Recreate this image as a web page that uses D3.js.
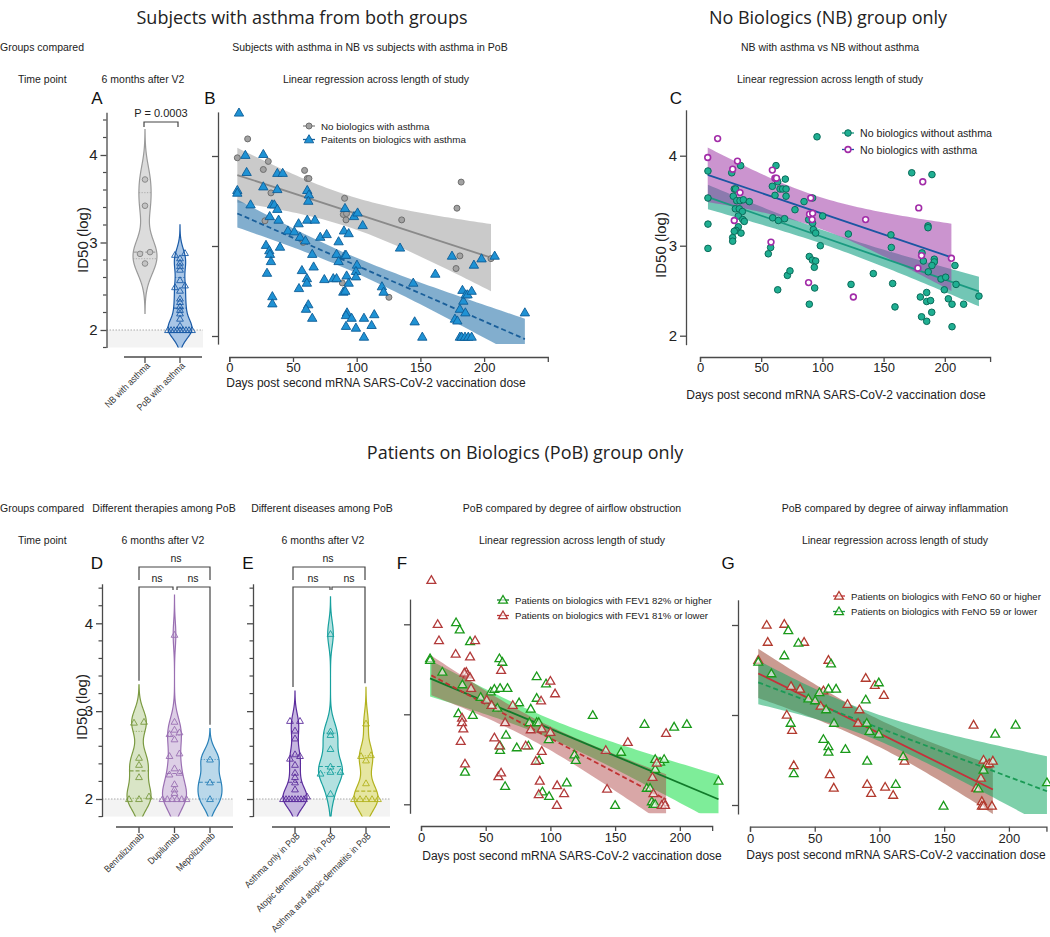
<!DOCTYPE html>
<html><head><meta charset="utf-8">
<script src="https://cdn.jsdelivr.net/npm/d3@7"></script>
<style>body{margin:0;background:#fff}</style>
</head><body><svg id="c" width="1050" height="937"></svg>
<script>
// ---------------- DATA ----------------
// Panel A (6 months after V2), ID50 log values
const catsA = ["NB with asthma", "PoB with asthma"];
const nbAsthma6m = [3.72, 3.42, 2.89, 2.87, 2.76];
const pobAsthma6m = [2.88, 2.86, 2.82, 2.77, 2.73, 2.69, 2.57, 2.51, 2.49, 2.45, 2.36, 2.32, 2.27, 2.23, 2.19, 2.13, 2.05, 2, 2, 2, 2, 2, 2, 2, 2, 2];

// Panel B / C : [days, ID50 log]
const nbWithAsthma = [[6.3,3.98],[14.4,4.19],[26.7,3.85],[30.6,3.94],[28,3.28],[32.7,3.59],[59.1,3.84],[61.2,3.75],[62.5,3.75],[58,3.04],[90.5,3.53],[89.5,3.35],[92,3.36],[91.6,3.29],[88.7,2.59],[125.3,2.43],[135.3,3.29],[182,3.71],[178.7,3.42],[181,2.89],[178,2.75],[205.4,2.86]];
const pobWithAsthma = [[7.6,4.48],[6.3,3.62],[6.3,3.59],[12.6,4.01],[13.6,3.82],[16.7,3.46],[26.7,4.02],[26.7,3.66],[37.7,3.81],[41.9,3.81],[37.7,3.63],[33.5,3.46],[35.3,3.46],[37.7,3.41],[31.7,3.33],[38.7,3.29],[28.8,3.01],[31.4,2.95],[31.9,2.91],[32.7,2.83],[29.6,2.70],[39.8,2.99],[33.8,2.44],[33.8,2.36],[46,3.17],[51,3.16],[54.4,3.25],[55.5,3.10],[59.7,3.06],[61.2,3.62],[62.5,3.57],[62,3.50],[61.2,3.29],[67.2,3.29],[65.1,2.91],[66.2,2.77],[57,2.73],[54.7,2.53],[60.9,2.64],[60.9,2.59],[62,2.35],[60.2,2.30],[65.1,2.20],[71.4,3.10],[76.4,3.13],[74.6,2.63],[81.6,2.64],[84.2,2.64],[85.8,3.05],[84.2,2.91],[85.8,2.83],[90.8,3.42],[90,3.17],[93.7,3.14],[97.9,3.33],[100.7,3.37],[104.7,3.23],[90.8,2.90],[91.6,2.90],[92.1,2.67],[93.7,2.59],[89.5,2.49],[91,2.50],[100.2,2.79],[99.4,2.72],[99.4,2.66],[92.4,2.26],[91.6,2.23],[96,2.20],[91.6,2.11],[99.4,2.09],[105.7,2.20],[105.7,1.99],[111.7,2.12],[113.8,2.24],[119.8,2.55],[121.1,2.49],[134,2.98],[144.4,2.59],[145.5,2.16],[151.5,1.99],[161.7,2.69],[174.8,2.89],[177.1,2.19],[179,2.17],[181,2.30],[183.7,2.39],[185.3,2.26],[183,2.51],[185.6,2.46],[187,2.46],[190.2,2.50],[181,1.99],[182.4,1.99],[185,1.99],[187.6,1.99],[190.2,1.99],[192,2.79],[198,2.86],[208.3,2.89],[232,2.26]];
const nbWithoutAsthma = [[6.5,3.83],[6.5,3.53],[6.5,3.24],[6.5,2.97],[25.9,3.81],[28,3.63],[29.1,3.63],[27.2,3.55],[30,3.50],[32.7,3.50],[35.4,3.51],[28.9,3.41],[32.1,3.41],[34.6,3.38],[31.3,3.33],[34.9,3.29],[36.2,3.27],[40.3,3.49],[33.2,3.89],[31.3,3.21],[29.4,3.17],[28,3.16],[26.7,3.09],[26.7,3.05],[33.5,3.14],[62.1,3.89],[62.6,3.74],[63.5,3.71],[59.1,3.66],[61.3,3.56],[65.4,3.63],[67.5,3.63],[70.3,3.63],[69.7,3.74],[70.3,3.55],[59.4,3.31],[64,3.28],[69.1,3.30],[77.6,3.40],[85,3.49],[92,3.53],[88.8,3.29],[92,3.25],[92.6,3.18],[94.5,3.14],[100.2,3.33],[98.3,3.00],[95.6,4.21],[55.8,2.91],[57.7,2.98],[71.4,2.67],[73.5,2.72],[63.5,2.51],[89.3,2.88],[91.8,2.84],[94.5,2.83],[93.4,2.76],[93.7,2.53],[89.3,2.35],[121.2,3.13],[123.4,2.57],[141.6,2.69],[156,3.12],[156.3,2.98],[157.4,2.58],[159.3,2.32],[173,3.81],[189.5,3.79],[186.3,3.22],[186.3,3.20],[181.4,2.92],[182.5,2.83],[186.5,2.71],[191.4,2.85],[191.4,2.82],[189.5,2.78],[196.9,2.63],[200.7,2.65],[199.6,2.51],[180,2.43],[185.2,2.48],[185.2,2.38],[188.4,2.39],[189.3,2.26],[181,2.21],[185.2,2.16],[202.9,2.41],[205.9,2.35],[208.3,2.78],[209.2,2.57],[215.4,2.35],[205.9,2.10],[227.9,2.44]];

// Panel D / E (6 months after V2)
const catsD = ["Benralizumab", "Dupilumab", "Mepolizumab"];
const benralizumab = [2.87, 2.88, 2.47, 2.39, 2.25, 2.03, 2, 2];
const dupilumab = [3.87, 2.88, 2.79, 2.76, 2.74, 2.68, 2.52, 2.49, 2.35, 2.30, 2.28, 2.17, 2.11, 2.07, 2, 2, 2, 2, 2, 2];
const mepolizumab = [2.45, 2.19, 2.0];
const catsE = ["Asthma only in PoB", "Atopic dermatitis only in PoB", "Asthma and atopic dermatitis in PoB"];
const asthmaOnly = [2.89, 2.89, 2.78, 2.69, 2.51, 2.49, 2.46, 2.39, 2.30, 2.25, 2.19, 2.11, 2.03, 2, 2, 2, 2, 2, 2, 2, 2];
const atopicOnly = [3.88, 2.77, 2.73, 2.57, 2.37, 2.31, 2.29, 2.31, 2.06];
const asthmaAtopic = [2.86, 2.50, 2.49, 2.44, 2.18, 2, 2, 2, 2, 2];

// Panel F : FEV1
const fevHigh = [[7,3.62],[7,3.60],[16.5,3.47],[27.1,4.02],[29.9,3.94],[37.9,3.81],[32,3.33],[28.9,3.01],[34,2.36],[40,2.99],[46.1,3.19],[53.9,3.25],[54.6,3.10],[56.7,3.28],[59,3.07],[61.1,3.29],[60.6,3.62],[62.9,3.58],[66.8,3.29],[65.7,2.77],[61.1,2.60],[61.1,2.65],[65,2.20],[74,2.63],[75.8,3.13],[83,2.65],[84.8,3.06],[83.8,2.91],[89.4,3.42],[89.4,3.18],[89.4,2.91],[91,2.91],[91.2,2.49],[96.6,3.34],[98.7,2.72],[93.8,2.14],[99,2.09],[112.6,2.24],[118.6,2.55],[119.6,2.49],[132.7,2.99],[150,1.99],[154.6,2.58],[172.7,2.89],[174.5,2.18],[177,2.18],[181,2.39],[181,2.50],[184.8,2.47],[187.9,2.50],[195.6,2.86],[205.4,2.89],[178.4,2.03],[179.6,2.0],[181,2.0],[229.9,2.26]];
const fevLow = [[8,4.49],[12.9,4.0],[13.9,3.82],[26.8,3.67],[35,3.47],[35.8,3.44],[33.5,3.46],[37.9,3.64],[41.8,3.82],[37.9,3.41],[38.7,3.29],[31.7,2.96],[31.7,2.91],[32.7,2.84],[30.7,2.70],[34,2.45],[50.8,3.16],[54.6,3.10],[56.7,2.74],[61.9,3.49],[65,2.91],[60.6,2.65],[59.8,2.31],[61.9,2.35],[70.9,3.10],[80.9,2.65],[84.8,2.83],[92.8,3.15],[93.3,2.84],[93.3,2.59],[88.7,2.48],[91.8,2.26],[91,2.11],[100,3.37],[103.6,3.23],[100,2.80],[105.2,2.21],[105,1.99],[110.6,2.12],[142.8,2.60],[143.8,2.17],[159.8,2.69],[178.9,2.30],[179.6,2.12],[182.2,2.46],[189.4,2.79],[187.9,2.02],[186,1.99],[188.6,1.99]];

// Panel G : FeNO
const fenoHigh = [[6.4,3.61],[12.9,4.0],[13.7,3.81],[26.5,4.01],[31.7,3.32],[28.4,3.0],[32.5,2.83],[33.8,2.44],[38.7,3.29],[41.8,3.81],[54.6,3.10],[56.7,3.27],[60.6,3.61],[61.6,2.34],[64.7,2.19],[75.3,3.12],[83.5,2.91],[84.5,3.06],[89.4,3.41],[90.5,2.23],[93.6,2.13],[96.4,3.33],[103.4,3.22],[104.4,2.20],[110.6,2.11],[119.3,2.49],[172.7,2.89],[174.7,2.19],[178.4,2.30],[180.4,2.50],[182.5,2.45],[184.8,2.46],[187.6,2.49],[179.1,2.04],[179.1,1.99],[180.4,1.99],[186.9,1.99]];
const fenoLow = [[6.4,3.59],[16.5,3.46],[26.5,3.66],[29.6,3.94],[37.4,3.80],[31.4,2.91],[33.8,2.35],[45.1,3.18],[50.3,3.16],[53.6,3.25],[58.8,3.06],[56.7,2.73],[60.6,2.65],[60.6,2.59],[60.6,3.29],[62.6,3.57],[64.9,2.91],[66.5,3.29],[73.7,2.62],[89.4,3.17],[90.2,2.91],[90.5,2.49],[92.3,2.82],[99.5,3.36],[99.5,2.79],[112.6,2.23],[118.3,2.54],[149.5,1.99],[176.5,2.18],[180.4,2.39],[189.4,2.79],[205.2,2.89],[229.4,2.25]];

const dayTicks = [0, 50, 100, 150, 200];
const logTicks = [2, 3, 4];

// ---------------- HELPERS ----------------
const svg = d3.select("#c");
const FONT = '"Liberation Sans", Arial, sans-serif';
const AX = "#4a4a4a";

function text(x, y, s, o = {}) {
  return svg.append("text").attr("x", x).attr("y", y).text(s)
    .attr("font-family", o.font || FONT).attr("font-size", o.size || 11)
    .attr("fill", o.color || "#222").attr("text-anchor", o.anchor || "start")
    .attr("dominant-baseline", "central");
}
function condense(sel, f) {
  const L = sel.node().getComputedTextLength();
  if (L > 0) sel.attr("textLength", L * f).attr("lengthAdjust", "spacingAndGlyphs");
}

function fitLine(data) {
  const n = data.length, mx = d3.mean(data, d => d[0]), my = d3.mean(data, d => d[1]);
  let sxx = 0, sxy = 0;
  data.forEach(d => { sxx += (d[0] - mx) ** 2; sxy += (d[0] - mx) * (d[1] - my); });
  const b = sxy / sxx, a = my - b * mx;
  let sse = 0; data.forEach(d => { sse += (d[1] - (a + b * d[0])) ** 2; });
  const s = Math.sqrt(sse / (n - 2)), df = n - 2, t = 1.96 + 2.5 / df;
  const pred = x => a + b * x;
  const hw = x => t * s * Math.sqrt(1 / n + (x - mx) ** 2 / sxx);
  return { pred, hw, x0: d3.min(data, d => d[0]), x1: d3.max(data, d => d[0]) };
}

function yAxisLeft(g, y, lo, hi, x, labels, minor) {
  const s = d3.scaleLinear().domain([lo, hi]).range([y(lo), y(hi)]);
  const gg = g.append("g").attr("transform", `translate(${x},0)`)
    .call(d3.axisLeft(s).tickValues(logTicks).tickSize(6).tickSizeOuter(0)
      .tickFormat(labels ? d3.format("d") : () => ""));
  if (minor) {
    const m = d3.range(Math.ceil(lo * 5), Math.floor(hi * 5) + 1).map(v => v / 5).filter(v => Math.abs(v - Math.round(v)) > 1e-6);
    gg.selectAll(".mn").data(m).join("line").attr("x1", -3.5).attr("x2", 0).attr("y1", d => y(d)).attr("y2", d => y(d)).attr("stroke", AX).attr("stroke-width", 1.2);
  }
  styleAxis(gg, 15);
}
function xAxisBottom(g, x, xmax, yPos, pad) {
  const s = d3.scaleLinear().domain([0, xmax]).range([x(0), x(xmax)]);
  const gg = g.append("g").attr("transform", `translate(0,${yPos})`)
    .call(d3.axisBottom(s).tickValues(dayTicks).tickSize(5).tickSizeOuter(5).tickPadding(pad).tickFormat(d3.format("d")));
  styleAxis(gg, 13);
}
function styleAxis(gg, fs) {
  gg.select(".domain").attr("stroke", AX).attr("stroke-width", 1.3);
  gg.selectAll(".tick line").attr("stroke", AX).attr("stroke-width", 1.3);
  gg.selectAll(".tick text").attr("font-family", FONT).attr("font-size", fs).attr("fill", "#222");
}

function marker(g, type, x, y, st) {
  if (type === "circle") {
    g.append("circle").attr("cx", x).attr("cy", y).attr("r", st.r || 3).attr("fill", st.fill).attr("stroke", st.stroke).attr("stroke-width", st.sw || 1);
  } else {
    g.append("path").attr("d", d3.symbol(d3.symbolTriangle, st.size || 36)()).attr("transform", `translate(${x},${y + 0.6})`)
      .attr("fill", st.fill).attr("stroke", st.stroke).attr("stroke-width", st.sw || 1);
  }
}

function scatterPanel(cfg) {
  const g = svg.append("g");
  const { x, y } = cfg;
  const clipId = "clip" + Math.random().toString(36).slice(2);
  svg.append("clipPath").attr("id", clipId).append("rect")
    .attr("x", cfg.axisX).attr("y", y(cfg.yHi)).attr("width", x(cfg.xMax) - cfg.axisX + 10).attr("height", y(cfg.yLo) - y(cfg.yHi));
  const gc = g.append("g").attr("clip-path", `url(#${clipId})`);
  const fits = cfg.series.map(s => fitLine(s.data));
  cfg.series.forEach((s, i) => {
    const f = fits[i];
    const xs = d3.range(61).map(k => f.x0 + (f.x1 - f.x0) * k / 60);
    gc.append("path").datum(xs).attr("fill", s.band).attr("stroke", "none")
      .attr("d", d3.area().x(d => x(d)).y0(d => y(f.pred(d) - f.hw(d))).y1(d => y(f.pred(d) + f.hw(d))));
  });
  cfg.series.forEach((s, i) => {
    const f = fits[i];
    gc.append("line").attr("x1", x(f.x0)).attr("x2", x(f.x1)).attr("y1", y(f.pred(f.x0))).attr("y2", y(f.pred(f.x1)))
      .attr("stroke", s.line).attr("stroke-width", 1.8).attr("stroke-dasharray", s.dash || null);
  });
  cfg.series.forEach(s => s.data.forEach(d => marker(g, s.marker, x(d[0]), y(d[1]), s.st)));
  yAxisLeft(g, y, cfg.yLo, cfg.yHi, cfg.axisX, cfg.yLabels, false);
  xAxisBottom(g, x, cfg.xMax, cfg.xAxisY, cfg.tickPad);
  cfg.series.forEach((s, i) => {
    const lx = cfg.legend.x, ly = cfg.legend.y + i * cfg.legend.dy;
    g.append("line").attr("x1", lx - 6).attr("x2", lx + 6).attr("y1", ly).attr("y2", ly).attr("stroke", s.line).attr("stroke-width", 1.3);
    marker(g, s.marker, lx, ly, s.st);
    g.append("text").attr("x", lx + 12).attr("y", ly).text(s.name).attr("font-family", FONT).attr("font-size", cfg.legend.fs)
      .attr("fill", "#222").attr("dominant-baseline", "central");
  });
  g.append("text").attr("x", cfg.title.x).attr("y", cfg.title.y).text("Days post second mRNA SARS-CoV-2 vaccination dose")
    .attr("font-family", FONT).attr("font-size", 12).attr("fill", "#222").attr("text-anchor", "middle").attr("dominant-baseline", "central");
}

function quant(vals, p) {
  const s = vals.slice().sort((a, b) => a - b), n = s.length;
  let pos = p * (n + 1); pos = Math.max(1, Math.min(n, pos));
  const i = Math.floor(pos), f = pos - i;
  return i >= n ? s[n - 1] : s[i - 1] + f * (s[i] - s[i - 1]);
}

function violin(g, vals, cx, y, v) {
  const bw = v.bw, lo = d3.min(vals) - 3 * bw, hi = d3.max(vals) + 3 * bw;
  const dens = t => d3.sum(vals, d => Math.exp(-0.5 * ((t - d) / bw) ** 2));
  const grid = d3.range(161).map(i => lo + (hi - lo) * i / 160);
  const maxD = d3.max(grid, dens);
  const W = 12, w = t => W * dens(t) / maxD;
  g.append("path").datum(grid).attr("fill", v.fill).attr("stroke", v.stroke).attr("stroke-width", 1.2)
    .attr("d", d3.area().y(d => y(d)).x0(d => cx - w(d)).x1(d => cx + w(d)).curve(d3.curveBasis));
  [[0.25, "1.2,1.5", 0.8], [0.5, "4,2", 1.1], [0.75, "1.2,1.5", 0.8]].forEach(([p, da, sw]) => {
    const q = quant(vals, p), ww = w(q);
    g.append("line").attr("x1", cx - ww).attr("x2", cx + ww).attr("y1", y(q)).attr("y2", y(q))
      .attr("stroke", v.stroke).attr("stroke-width", sw).attr("stroke-dasharray", da).attr("opacity", 0.9);
  });
  const s = vals.slice().sort((a, b) => a - b);
  const groups = [];
  s.forEach(val => {
    const last = groups[groups.length - 1];
    if (last && val - last[0] <= 0.031) last.push(val); else groups.push([val]);
  });
  groups.forEach(gr => {
    const k = gr.length, sp = k > 1 ? Math.min(10, 24 / (k - 1)) : 0;
    gr.forEach((val, j) => marker(g, v.marker, cx + (j - (k - 1) / 2) * sp, y(val), v.pt));
  });
  return y(hi);
}

function violinPanel(cfg) {
  const g = svg.append("g");
  const { y, xs } = cfg;
  g.append("rect").attr("x", cfg.axisX).attr("y", y(2)).attr("width", cfg.shadeR - cfg.axisX).attr("height", y(1.8) - y(2)).attr("fill", "#f3f3f3");
  g.append("line").attr("x1", cfg.axisX).attr("x2", cfg.shadeR).attr("y1", y(2)).attr("y2", y(2)).attr("stroke", "#aaa").attr("stroke-width", 1).attr("stroke-dasharray", "1.5,1.5");
  const clipId = "vc" + Math.random().toString(36).slice(2);
  svg.append("clipPath").attr("id", clipId).append("rect").attr("x", cfg.axisX).attr("y", 0).attr("width", 400).attr("height", y(1.8));
  const gc = g.append("g").attr("clip-path", `url(#${clipId})`);
  const tops = cfg.series.map((s, i) => violin(gc, s.values, xs(cfg.cats[i]), y, s));
  yAxisLeft(g, y, 1.8, cfg.yHi, cfg.axisX, cfg.yLabels, true);
  const ya = cfg.catAxisY;
  g.append("line").attr("x1", cfg.catX0).attr("x2", cfg.catX1).attr("y1", ya).attr("y2", ya).attr("stroke", AX).attr("stroke-width", 1.3);
  cfg.cats.forEach(c => {
    const cx = xs(c);
    g.append("line").attr("x1", cx).attr("x2", cx).attr("y1", ya).attr("y2", ya + 6).attr("stroke", AX).attr("stroke-width", 1.3);
    const t = g.append("text").attr("transform", `translate(${cx + 3},${ya + 7}) rotate(-45)`).attr("text-anchor", "end")
      .attr("dominant-baseline", "central").attr("font-family", FONT).attr("font-size", 9.6).attr("fill", "#333").text(c);
    condense(t, 0.88);
  });
  return tops;
}

function bracket(x1, x2, yb, leg1, leg2) {
  const p = d3.path(); p.moveTo(x1, leg1); p.lineTo(x1, yb); p.lineTo(x2, yb); p.lineTo(x2, leg2);
  svg.append("path").attr("d", p.toString()).attr("fill", "none").attr("stroke", "#444").attr("stroke-width", 1.2);
}
function yTitle(x, y) {
  svg.append("text").attr("transform", `translate(${x},${y}) rotate(-90)`).attr("text-anchor", "middle").attr("dominant-baseline", "central")
    .attr("font-family", FONT).attr("font-size", 15).attr("fill", "#222").text("ID50 (log)");
}

// ---------------- HEADERS ----------------
const OPEN = '"Open Sans", sans-serif';
text(302, 17, "Subjects with asthma from both groups", { size: 18, font: OPEN, anchor: "middle" });
text(828, 17, "No Biologics (NB) group only", { size: 18, font: OPEN, anchor: "middle" });
text(0, 47, "Groups compared", { size: 10.5 });
text(370, 47, "Subjects with asthma in NB vs subjects with asthma in PoB", { size: 10.5, anchor: "middle" });
text(830, 47, "NB with asthma vs NB without asthma", { size: 10.5, anchor: "middle" });
text(18, 79, "Time point", { size: 10.5 });
text(143, 79, "6 months after V2", { size: 10.5, anchor: "middle" });
text(376, 79, "Linear regression across length of study", { size: 10.5, anchor: "middle" });
text(830, 79, "Linear regression across length of study", { size: 10.5, anchor: "middle" });
text(97, 98, "A", { size: 17, anchor: "middle", color: "#111" });
text(210, 98, "B", { size: 17, anchor: "middle", color: "#111" });
text(676, 98, "C", { size: 17, anchor: "middle", color: "#111" });

text(525, 452, "Patients on Biologics (PoB) group only", { size: 18, font: OPEN, anchor: "middle" });
text(0, 508, "Groups compared", { size: 10.5 });
text(164, 508, "Different therapies among PoB", { size: 10.5, anchor: "middle" });
text(322, 508, "Different diseases among PoB", { size: 10.5, anchor: "middle" });
text(572, 508, "PoB compared by degree of airflow obstruction", { size: 10.5, anchor: "middle" });
text(895, 508, "PoB compared by degree of airway inflammation", { size: 10.5, anchor: "middle" });
text(18, 540, "Time point", { size: 10.5 });
text(163, 540, "6 months after V2", { size: 10.5, anchor: "middle" });
text(323, 540, "6 months after V2", { size: 10.5, anchor: "middle" });
text(572, 540, "Linear regression across length of study", { size: 10.5, anchor: "middle" });
text(895, 540, "Linear regression across length of study", { size: 10.5, anchor: "middle" });
text(97, 563, "D", { size: 17, anchor: "middle", color: "#111" });
text(248, 563, "E", { size: 17, anchor: "middle", color: "#111" });
text(402, 563, "F", { size: 17, anchor: "middle", color: "#111" });
text(728, 563, "G", { size: 17, anchor: "middle", color: "#111" });

// ---------------- PANEL A ----------------
const yA = d3.scaleLinear().domain([2, 4]).range([330, 155]);
const xA = d3.scalePoint().domain(catsA).range([145, 180]);
violinPanel({
  y: yA, xs: xA, cats: catsA, axisX: 106.5, shadeR: 203, yHi: 4.49, yLabels: true,
  catAxisY: 357, catX0: 124, catX1: 202,
  series: [
    { values: nbAsthma6m, bw: 0.19, fill: "#dcdcdc", stroke: "#9a9a9a", marker: "circle", pt: { r: 2.8, fill: "#c4c4c4", stroke: "#8a8a8a", sw: 1 } },
    { values: pobAsthma6m, bw: 0.107, fill: "#a9c6e6", stroke: "#1a5aa6", marker: "tri", pt: { size: 20, fill: "none", stroke: "#1a5aa6", sw: 0.9 } }
  ]
});
yTitle(82, 240);
bracket(144, 178, 122, 127, 127);
text(161, 113, "P = 0.0003", { size: 11, anchor: "middle" });

// ---------------- PANEL B ----------------
const xB = d3.scaleLinear().domain([0, 250]).range([229.3, 229.3 + 250 * 1.274]);
const yB = d3.scaleLinear().domain([2, 4]).range([336, 156]);
scatterPanel({
  x: xB, y: yB, axisX: 218, yLo: 1.91, yHi: 4.49, xMax: 250, xAxisY: 357, yLabels: false, tickPad: 1,
  legend: { x: 309, y: 126, dy: 13.5, fs: 9.8 }, title: { x: 376, y: 382.5 },
  series: [
    { name: "No biologics with asthma", data: nbWithAsthma, marker: "circle", st: { r: 3, fill: "#a2a2a2", stroke: "#6e6e6e", sw: 1 }, band: "rgba(150,150,150,0.5)", line: "#8a8a8a" },
    { name: "Paitents on biologics with asthma", data: pobWithAsthma, marker: "tri", st: { size: 38, fill: "#1f92d4", stroke: "#0d5c96", sw: 0.9 }, band: "rgba(28,108,165,0.55)", line: "#1a5f9a", dash: "5,3" }
  ]
});

// ---------------- PANEL C ----------------
const xC = d3.scaleLinear().domain([0, 237]).range([700, 700 + 237 * 1.224]);
const yC = d3.scaleLinear().domain([2, 4]).range([335.7, 155.7]);
scatterPanel({
  x: xC, y: yC, axisX: 686, yLo: 1.9, yHi: 4.51, xMax: 237, xAxisY: 357, yLabels: true, tickPad: 1,
  legend: { x: 848, y: 133, dy: 16.5, fs: 10.6 }, title: { x: 836, y: 395 },
  series: [
    { name: "No biologics without asthma", data: nbWithoutAsthma, marker: "circle", st: { r: 3.3, fill: "#1faf92", stroke: "#0b6b5a", sw: 1 }, band: "rgba(20,160,132,0.6)", line: "#1a9a80" },
    { name: "No biologics with asthma", data: nbWithAsthma, marker: "circle", st: { r: 2.9, fill: "#fff", stroke: "#a22ca8", sw: 1.6 }, band: "rgba(160,60,168,0.55)", line: "#1b56a2" }
  ]
});
yTitle(660, 245);

// ---------------- PANEL D ----------------
const yD = d3.scaleLinear().domain([2, 4]).range([799, 623.3]);
const xD = d3.scalePoint().domain(catsD).range([139, 210]);
const topsD = violinPanel({
  y: yD, xs: xD, cats: catsD, axisX: 102, shadeR: 233, yHi: 4.45, yLabels: true,
  catAxisY: 827, catX0: 116, catX1: 233,
  series: [
    { values: benralizumab, bw: 0.14, fill: "#d9e5c6", stroke: "#7b9a42", marker: "tri", pt: { size: 20, fill: "none", stroke: "#7b9a42", sw: 0.9 } },
    { values: dupilumab, bw: 0.15, fill: "#ddcfe6", stroke: "#9a6fb2", marker: "tri", pt: { size: 20, fill: "none", stroke: "#9a6fb2", sw: 0.9 } },
    { values: mepolizumab, bw: 0.117, fill: "#bad8ea", stroke: "#2a80b8", marker: "tri", pt: { size: 20, fill: "none", stroke: "#2a80b8", sw: 0.9 } }
  ]
});
yTitle(81, 707);
bracket(139, 210, 567, 580, 580);
bracket(139, 173, 587, topsD[0] - 4, 590);
bracket(177, 210, 587, 590, topsD[2] - 4);
text(176, 558, "ns", { size: 10.5, anchor: "middle" });
text(157, 578, "ns", { size: 10.5, anchor: "middle" });
text(193, 578, "ns", { size: 10.5, anchor: "middle" });

// ---------------- PANEL E ----------------
const xE = d3.scalePoint().domain(catsE).range([295, 366]);
const topsE = violinPanel({
  y: yD, xs: xE, cats: catsE, axisX: 253, shadeR: 390, yHi: 4.45, yLabels: false,
  catAxisY: 827, catX0: 272, catX1: 390,
  series: [
    { values: asthmaOnly, bw: 0.113, fill: "#c6b6e0", stroke: "#5b2c9c", marker: "tri", pt: { size: 20, fill: "none", stroke: "#5b2c9c", sw: 0.9 } },
    { values: atopicOnly, bw: 0.14, fill: "#b3e1e0", stroke: "#17a09e", marker: "tri", pt: { size: 20, fill: "none", stroke: "#17a09e", sw: 0.9 } },
    { values: asthmaAtopic, bw: 0.137, fill: "#e6e6a2", stroke: "#b2b21e", marker: "tri", pt: { size: 20, fill: "none", stroke: "#b2b21e", sw: 0.9 } }
  ]
});
bracket(293, 365, 567, 580, 580);
bracket(293, 330, 587, topsE[0] - 4, 590);
bracket(332, 365, 587, 590, topsE[2] - 4);
text(328, 558, "ns", { size: 10.5, anchor: "middle" });
text(313, 578, "ns", { size: 10.5, anchor: "middle" });
text(349, 578, "ns", { size: 10.5, anchor: "middle" });

// ---------------- PANEL F ----------------
const xF = d3.scaleLinear().domain([0, 225]).range([421, 421 + 225 * 1.294]);
const yF = d3.scaleLinear().domain([2, 4]).range([804.3, 624.3]);
scatterPanel({
  x: xF, y: yF, axisX: 410, yLo: 1.9, yHi: 4.28, xMax: 225, xAxisY: 826, yLabels: false, tickPad: 2,
  legend: { x: 503, y: 600, dy: 15.5, fs: 9.6 }, title: { x: 572, y: 856 },
  series: [
    { name: "Patients on biologics with FEV1 82% or higher", data: fevHigh, marker: "tri", st: { size: 34, fill: "rgba(255,255,255,0.6)", stroke: "#1a9a1a", sw: 1.3 }, band: "rgba(40,225,85,0.6)", line: "#117a2a" },
    { name: "Patients on biologics with FEV1 81% or lower", data: fevLow, marker: "tri", st: { size: 34, fill: "rgba(255,255,255,0.6)", stroke: "#b23a3a", sw: 1.3 }, band: "rgba(170,60,60,0.45)", line: "#c03232", dash: "5,3" }
  ]
});

// ---------------- PANEL G ----------------
const xG = d3.scaleLinear().domain([0, 229]).range([750, 750 + 229 * 1.2945]);
const yG = d3.scaleLinear().domain([2, 4]).range([805, 625]);
scatterPanel({
  x: xG, y: yG, axisX: 738, yLo: 1.9, yHi: 4.28, xMax: 229, xAxisY: 826.7, yLabels: false, tickPad: 2,
  legend: { x: 839, y: 596, dy: 15.5, fs: 9.6 }, title: { x: 896, y: 855 },
  series: [
    { name: "Patients on biologics with FeNO 60 or higher", data: fenoHigh, marker: "tri", st: { size: 34, fill: "rgba(255,255,255,0.6)", stroke: "#b23a2e", sw: 1.3 }, band: "rgba(150,55,35,0.5)", line: "#c6303a" },
    { name: "Patients on biologics with FeNO 59 or lower", data: fenoLow, marker: "tri", st: { size: 34, fill: "rgba(255,255,255,0.6)", stroke: "#1a9a1a", sw: 1.3 }, band: "rgba(20,170,100,0.55)", line: "#1a9a55", dash: "5,3" }
  ]
});
</script></body></html>
